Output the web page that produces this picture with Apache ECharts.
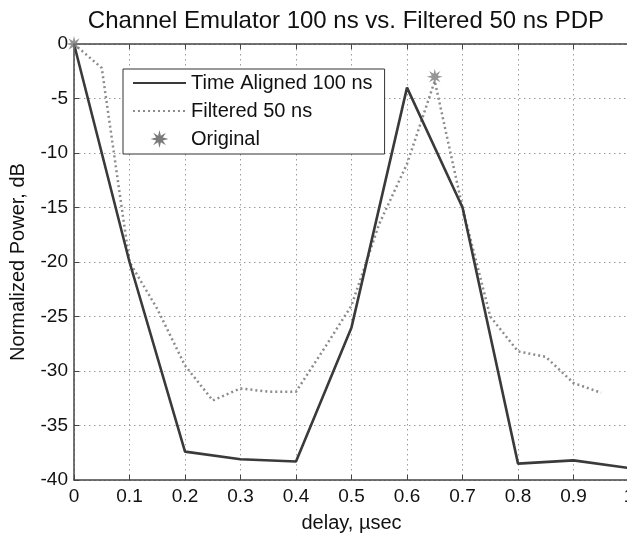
<!DOCTYPE html>
<html>
<head>
<meta charset="utf-8">
<script src="https://cdn.jsdelivr.net/npm/echarts@6/dist/echarts.min.js"></script>
<style>
html,body{margin:0;padding:0;background:#fff;}
#chart{width:627px;height:534px;}
</style>
</head>
<body>
<div id="chart"></div>
<script>
// ---- Data ----
var alignedX = [0, 0.1, 0.2, 0.3, 0.4, 0.5, 0.6, 0.7, 0.8, 0.9, 1.0];
var alignedY = [0, -20, -37.4, -38.1, -38.3, -26.0, -4.0, -15.0, -38.5, -38.2, -38.9];

var filteredX = [0, 0.05, 0.1, 0.15, 0.2, 0.25, 0.3, 0.35, 0.4, 0.45, 0.5, 0.55, 0.6, 0.65, 0.7, 0.75, 0.8, 0.85, 0.9, 0.95];
var filteredY = [0, -2.2, -20, -24.3, -29.5, -32.7, -31.6, -31.9, -31.9, -28.0, -24.0, -16.5, -11.0, -3.4, -15.0, -25.0, -28.2, -28.7, -31.1, -32.0];

var originalX = [0, 0.65];
var originalY = [0, -3];

var seriesNames = ['Time Aligned 100 ns', 'Filtered 50 ns', 'Original'];
var titleText = 'Channel Emulator 100 ns vs. Filtered 50 ns PDP';
var xName = 'delay, \u00b5sec';
var yName = 'Normalized Power, dB';

function pairs(xs, ys) { return xs.map(function (x, i) { return [x, ys[i]]; }); }

// asterisk-like star symbol
function starPath() {
  var pts = [];
  for (var i = 0; i < 16; i++) {
    var r = (i % 2 === 0) ? 10 : 4;
    var a = Math.PI / 2 + i * Math.PI / 8;
    pts.push((10 + r * Math.cos(a)).toFixed(2) + ',' + (10 - r * Math.sin(a)).toFixed(2));
  }
  return 'path://M' + pts.join('L') + 'Z';
}
var STAR = starPath();

var FONT = 'Liberation Sans, Arial, sans-serif';
var gridDash = { color: '#9a9a9a', width: 1, type: [1.5, 3.5] };

var chart = echarts.init(document.getElementById('chart'), null, { renderer: 'canvas' });
chart.setOption({
  animation: false,
  backgroundColor: '#fff',
  textStyle: { fontFamily: FONT },
  title: {
    text: titleText,
    left: 341,
    textAlign: 'center',
    top: 4,
    textStyle: { fontFamily: FONT, fontSize: 24, fontWeight: 'normal', color: '#111' }
  },
  legend: {
    orient: 'vertical',
    left: 123,
    top: 69,
    padding: [4, 12, 5, 9],
    itemWidth: 53,
    itemHeight: 18,
    itemGap: 8,
    backgroundColor: '#fff',
    borderColor: '#333',
    borderWidth: 1,
    borderRadius: 0,
    itemStyle: { opacity: 0 },
    textStyle: { fontFamily: FONT, fontSize: 20, color: '#111', lineHeight: 20 },
    data: [seriesNames[0], seriesNames[1], { name: seriesNames[2], itemStyle: { opacity: 1 } }]
  },
  grid: { left: 74, width: 555, top: 44, height: 436, containLabel: false, outerBoundsMode: 'none' },
  xAxis: [{
    type: 'value', min: 0, max: 1, interval: 0.1, position: 'bottom',
    name: xName, nameLocation: 'middle', nameGap: 33,
    nameTextStyle: { fontFamily: FONT, fontSize: 20, color: '#111' },
    axisLine: { show: true, onZero: false, lineStyle: { color: '#444', width: 1.5 } },
    axisTick: { show: true, inside: true, length: 5, lineStyle: { color: '#444' } },
    axisLabel: { fontFamily: FONT, fontSize: 19, color: '#111', margin: 7,
      formatter: function (v) { return String(Math.round(v * 10) / 10); } },
    splitLine: { show: true, lineStyle: gridDash }
  }, {
    type: 'value', min: 0, max: 1, interval: 0.1, position: 'top',
    axisLine: { show: true, onZero: false, lineStyle: { color: '#444', width: 1.5 } },
    axisTick: { show: true, inside: true, length: 5, lineStyle: { color: '#444' } },
    axisLabel: { show: false },
    splitLine: { show: false }
  }],
  yAxis: [{
    type: 'value', min: -40, max: 0, interval: 5,
    name: yName, nameLocation: 'middle', nameGap: 46, nameRotate: 90,
    nameTextStyle: { fontFamily: FONT, fontSize: 20, color: '#111' },
    axisLine: { show: true, onZero: false, lineStyle: { color: '#444', width: 1.5 } },
    axisTick: { show: true, inside: true, length: 5, lineStyle: { color: '#444' } },
    axisLabel: { fontFamily: FONT, fontSize: 19, color: '#111', margin: 6 },
    splitLine: { show: true, lineStyle: gridDash }
  }],
  series: [{
    name: seriesNames[0], type: 'line', xAxisIndex: 0,
    data: pairs(alignedX, alignedY),
    symbol: 'none', z: 4,
    lineStyle: { color: '#3a3a3a', width: 2.6 },
    itemStyle: { color: '#3a3a3a' }
  }, {
    name: seriesNames[1], type: 'line', xAxisIndex: 0,
    data: pairs(filteredX, filteredY),
    symbol: 'none', z: 3,
    lineStyle: { color: '#8c8c8c', width: 2.5, type: [2, 3] },
    itemStyle: { color: '#8c8c8c' }
  }, {
    name: seriesNames[2], type: 'scatter', xAxisIndex: 0,
    data: pairs(originalX, originalY),
    symbol: STAR, symbolSize: 16, z: 5,
    itemStyle: { color: '#7a7a7a' }
  }]
});
</script>
</body>
</html>
